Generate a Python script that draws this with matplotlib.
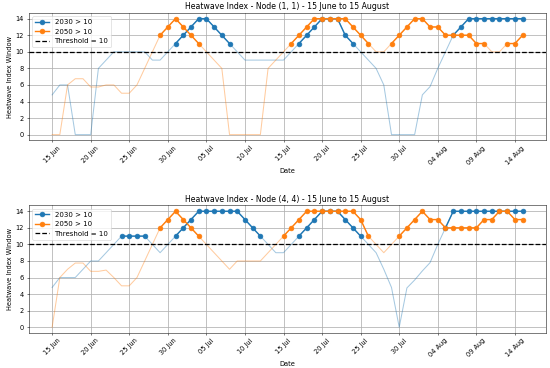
import numpy as np
import pandas as pd
import matplotlib
matplotlib.use("Agg")
import matplotlib.pyplot as plt
import matplotlib.dates as mdates

dates = pd.date_range("2023-06-15", "2023-08-15", freq="D")

node11_2030 = [4.8, 6, 6, 0, 0, 0, 8, 9, 10, 10, 10, 10, 10, 9, 9, 10,
               11, 12, 13, 14, 14, 13, 12, 11, 10, 9, 9, 9, 9, 9, 9, 10,
               11, 12, 13, 14, 14, 14, 12, 11, 10, 9, 8, 6, 0, 0, 0, 0,
               4.8, 5.8, 8, 10, 12, 13, 14, 14, 14, 14, 14, 14, 14, 14]
node11_2050 = [0, 0, 6, 6.75, 6.75, 5.75, 5.75, 6, 6, 5, 5, 6, 8, 10, 12, 13,
               14, 13, 12, 11, 10, 9, 8, 0, 0, 0, 0, 0, 8, 9, 10, 11,
               12, 13, 14, 14, 14, 14, 14, 13, 12, 11, 10, 10, 11, 12, 13, 14,
               14, 13, 13, 12, 12, 12, 12, 11, 11, 10, 10, 11, 11, 12]
node44_2030 = [4.8, 6, 6, 6, 7, 8, 8, 9, 10, 11, 11, 11, 11, 10, 9, 10,
               11, 12, 13, 14, 14, 14, 14, 14, 14, 13, 12, 11, 10, 9, 9, 10,
               11, 12, 13, 14, 14, 14, 13, 12, 11, 10, 9, 7, 4.8, 0, 4.75, 5.7,
               6.8, 7.8, 10, 12, 14, 14, 14, 14, 14, 14, 14, 14, 14, 14]
node44_2050 = [0, 6, 7, 7.75, 7.75, 6.75, 6.75, 6.9, 6, 5, 5, 6, 8, 10, 12, 13,
               14, 13, 12, 11, 10, 9, 8, 7, 8, 8, 8, 8, 9, 10, 11, 12,
               13, 14, 14, 14, 14, 14, 14, 14, 13, 11, 10, 9, 10, 11, 12, 13,
               14, 13, 13, 12, 12, 12, 12, 12, 13, 13, 14, 14, 13, 13]

threshold = 10
nodes = ["(1, 1)", "(4, 4)"]
series = [(node11_2030, node11_2050), (node44_2030, node44_2050)]

fig, axes = plt.subplots(2, 1, figsize=(12, 368 / (550 / 12)), dpi=550 / 12)

for ax, node, (s30, s50) in zip(axes, nodes, series):
    s30 = np.array(s30, dtype=float)
    s50 = np.array(s50, dtype=float)
    ax.plot(dates, s30, color="C0", alpha=0.4, lw=1.6)
    ax.plot(dates, s50, color="C1", alpha=0.4, lw=1.6)
    ax.plot(dates, np.where(s30 > threshold, s30, np.nan), color="C0",
            marker="o", markersize=7.5, lw=2.2, label="2030 > 10")
    ax.plot(dates, np.where(s50 > threshold, s50, np.nan), color="C1",
            marker="o", markersize=7.5, lw=2.2, label="2050 > 10")
    ax.axhline(threshold, color="black", linestyle="--", lw=2,
               label="Threshold = 10")
    ax.set_title(f"Heatwave Index - Node {node} - 15 June to 15 August",
                 fontsize=12.2)
    ax.set_xlabel("Date", fontsize=10.5)
    ax.set_ylabel("Heatwave Index Window", fontsize=10.5)
    ax.set_xticks(dates[::5])
    ax.xaxis.set_major_formatter(mdates.DateFormatter("%d %b"))
    ax.tick_params(labelsize=10.5)
    for lbl in ax.get_xticklabels():
        lbl.set_rotation(45)
    ax.set_yticks(range(0, 15, 2))
    ax.grid(True, lw=1.2)
    ax.legend(loc="upper left", fontsize=11)

fig.subplots_adjust(left=0.052, right=0.993, top=0.965, bottom=0.095,
                    hspace=0.51)
fig.savefig("out.png")
